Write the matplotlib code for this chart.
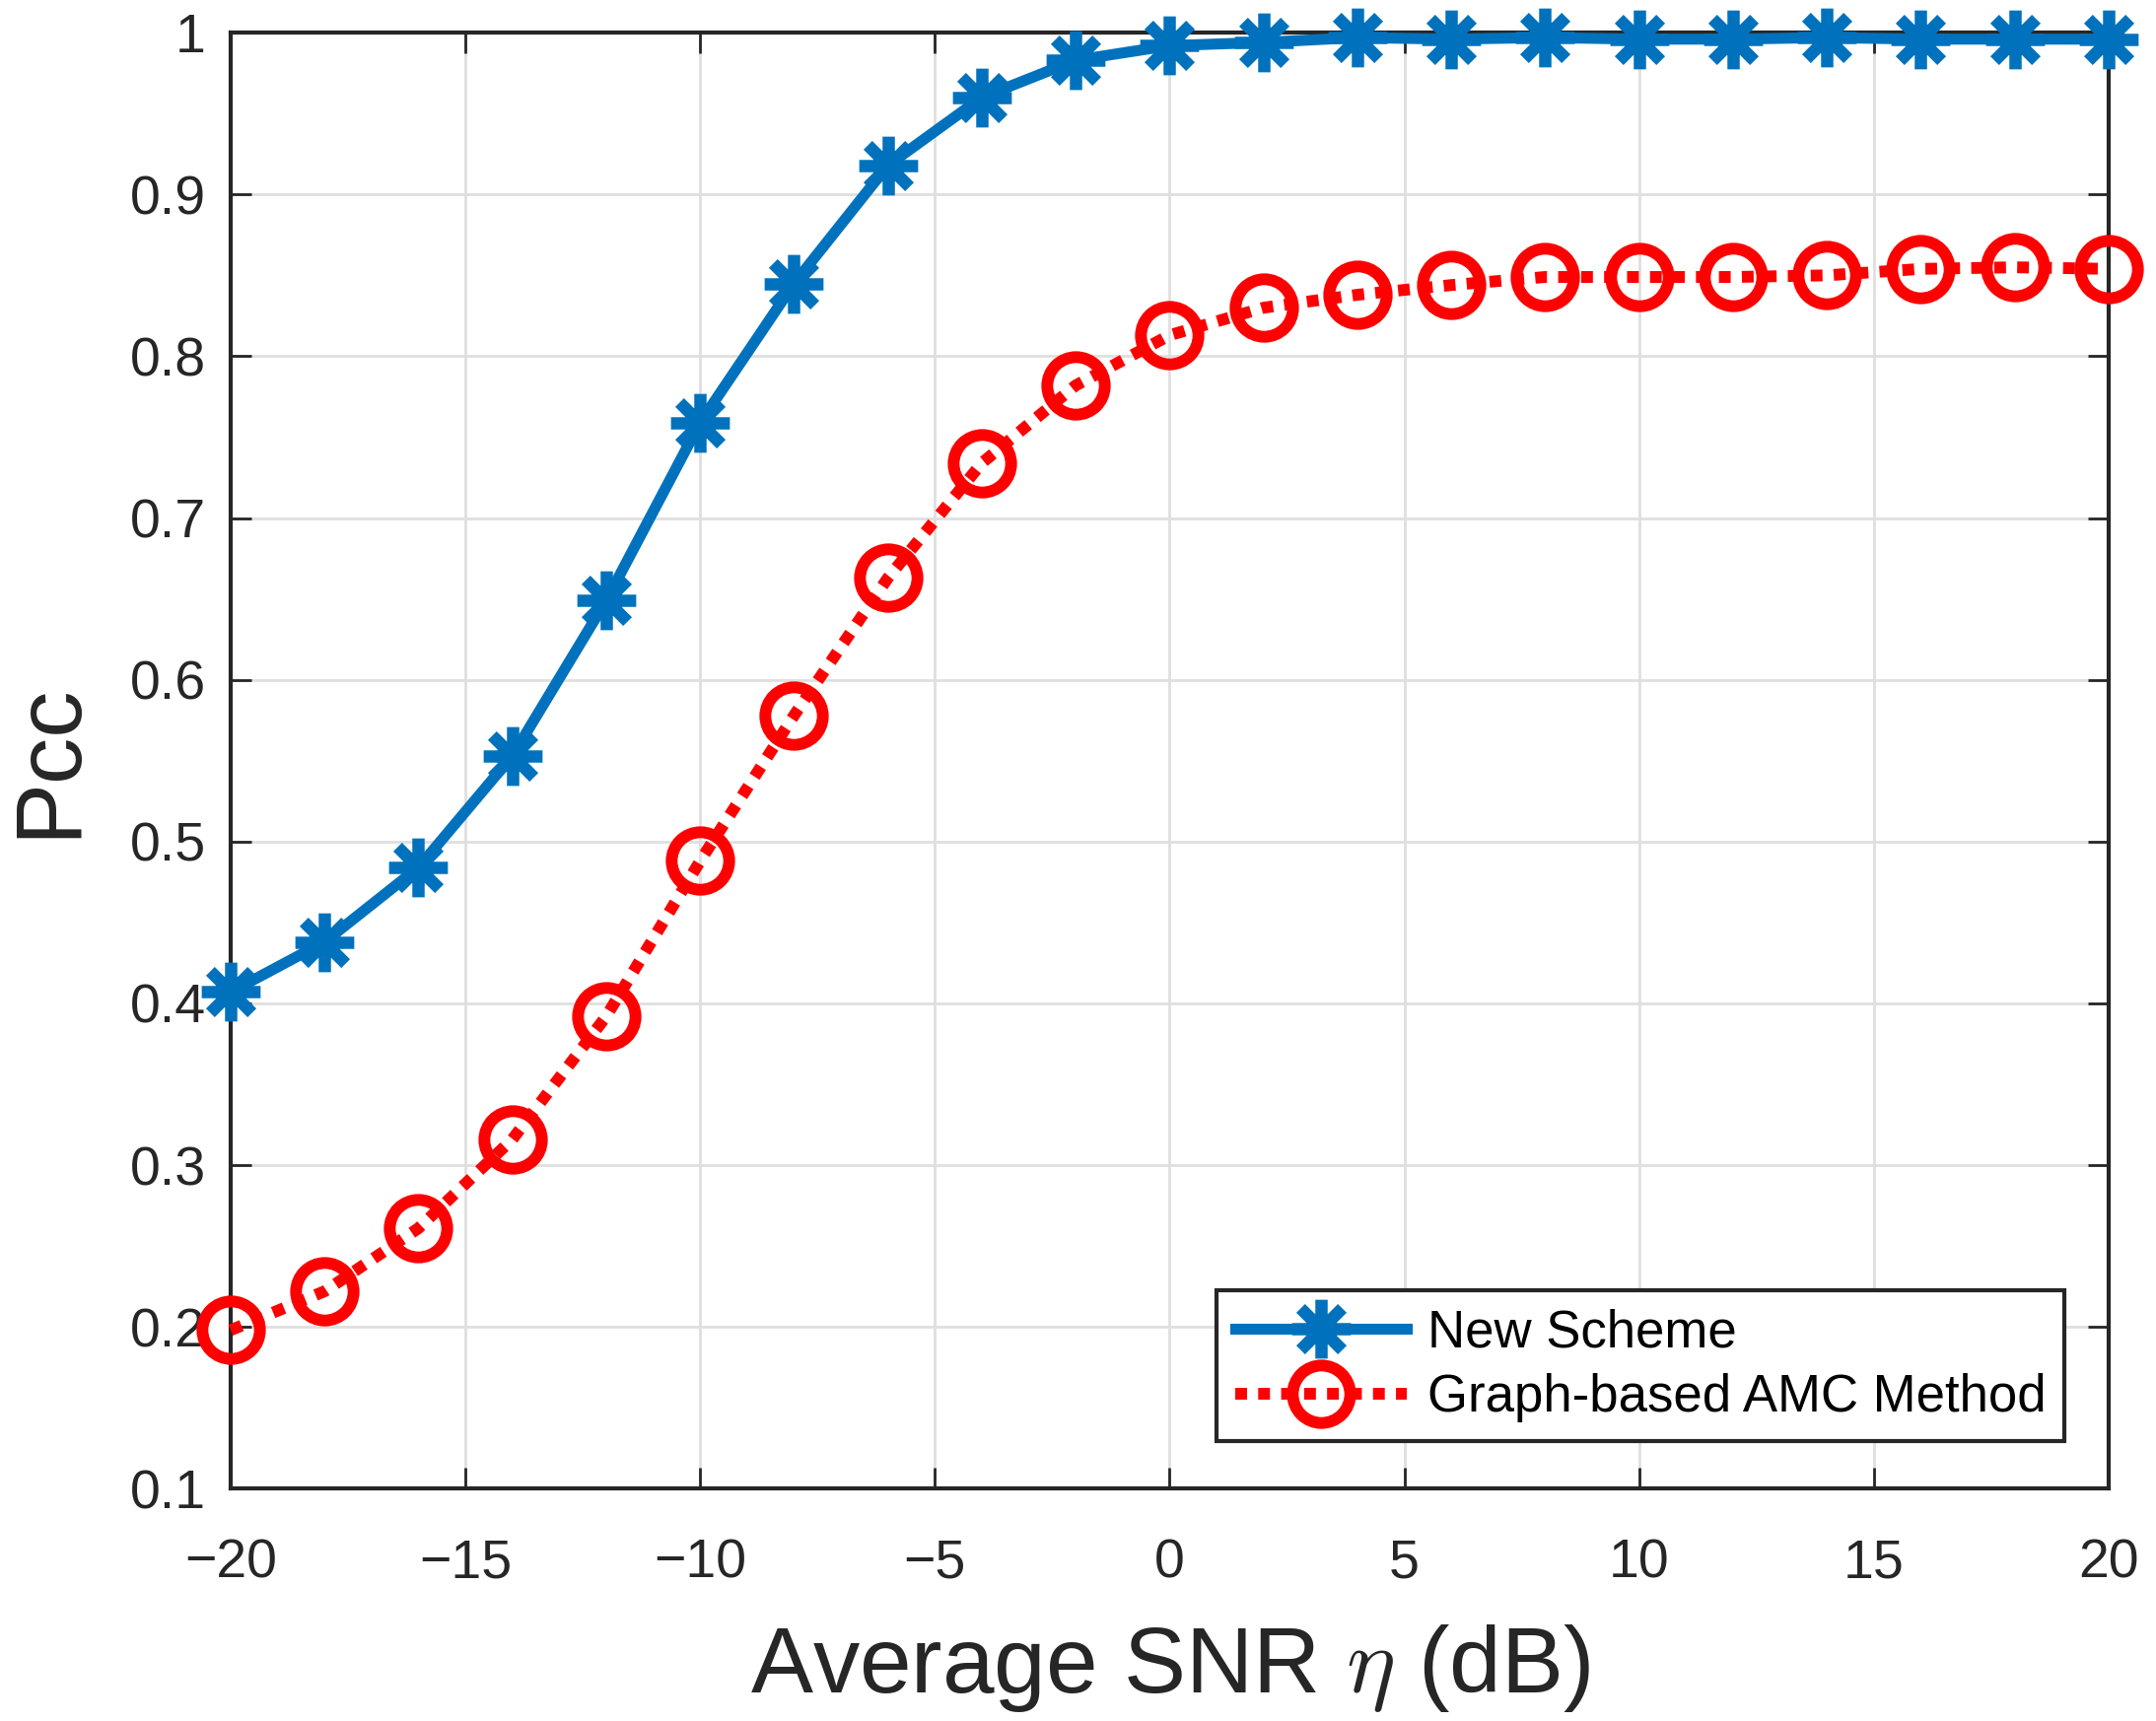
import numpy as np
import matplotlib
matplotlib.use("Agg")
import matplotlib.pyplot as plt
from matplotlib.path import Path

plt.rcParams['font.family'] = ['Liberation Sans', 'DejaVu Sans']
plt.rcParams['mathtext.fontset'] = 'cm'

# SNR in dB
snr = [-20, -18, -16, -14, -12, -10, -8, -6, -4, -2, 0,
       2, 4, 6, 8, 10, 12, 14, 16, 18, 20]
new_scheme = [0.407, 0.438, 0.484, 0.553, 0.649, 0.759, 0.845, 0.918, 0.960, 0.983, 0.992,
              0.994, 0.997, 0.996, 0.997, 0.996, 0.996, 0.997, 0.996, 0.996, 0.996]
graph_amc = [0.198, 0.222, 0.261, 0.316, 0.392, 0.488, 0.578, 0.663, 0.734, 0.782, 0.813,
             0.830, 0.838, 0.844, 0.849, 0.849, 0.849, 0.850, 0.854, 0.855, 0.854]

xticks = [-20, -15, -10, -5, 0, 5, 10, 15, 20]
xticklabels = ['\u221220', '\u221215', '\u221210', '\u22125', '0', '5', '10', '15', '20']
yticks = [0.1, 0.2, 0.3, 0.4, 0.5, 0.6, 0.7, 0.8, 0.9, 1.0]
yticklabels = ['0.1', '0.2', '0.3', '0.4', '0.5', '0.6', '0.7', '0.8', '0.9', '1']

# matlab style asterisk marker
d = 0.707
ast = Path([(-1, 0), (1, 0), (0, -1), (0, 1), (-d, -d), (d, d), (-d, d), (d, -d)],
           [Path.MOVETO, Path.LINETO] * 4)

fig = plt.figure(figsize=(21.87, 17.46), dpi=100)
ax = fig.add_axes([0.107, 0.135, 0.871, 0.846])

blue = '#0072BD'
ax.plot(snr, new_scheme, color=blue, lw=8, marker=ast, ms=43, mew=9,
        mec=blue, clip_on=False, zorder=4, label='New Scheme')
ax.plot(snr, graph_amc, color='#FF0000', lw=8.6, linestyle=(0, (1, 0.95)),
        dash_capstyle='butt', marker='o', ms=42, mew=8.6, mfc='none', mec='#FF0000',
        clip_on=False, zorder=3, label='Graph-based AMC Method')

ax.set_xlim(-20, 20)
ax.set_ylim(0.1, 1.0)
ax.set_xticks(xticks)
ax.set_xticklabels(xticklabels)
ax.set_yticks(yticks)
ax.set_yticklabels(yticklabels)

ax.grid(True, color='#DFDFDF', lw=2)
ax.set_axisbelow(True)
for s in ax.spines.values():
    s.set_linewidth(3)
    s.set_color('#262626')
ax.tick_params(direction='in', length=15, width=2, colors='#262626',
               labelsize=40, top=True, right=True)
ax.tick_params(axis='x', pad=36)
ax.tick_params(axis='y', pad=18)

ax.set_xlabel('Average SNR $\\eta$ (dB)', fontsize=68, color='#262626', labelpad=24)
ax.set_ylabel('Pcc', fontsize=68, color='#262626', labelpad=26)

leg = ax.legend(loc='lower right', bbox_to_anchor=(0.9765, 0.033), fontsize=38,
                fancybox=False, framealpha=1, edgecolor='#262626',
                handlelength=3.3, borderpad=0.35, labelspacing=0.3,
                handletextpad=0.4, borderaxespad=0)
leg.get_frame().set_linewidth(3)

fig.savefig('out.png', dpi=100)
